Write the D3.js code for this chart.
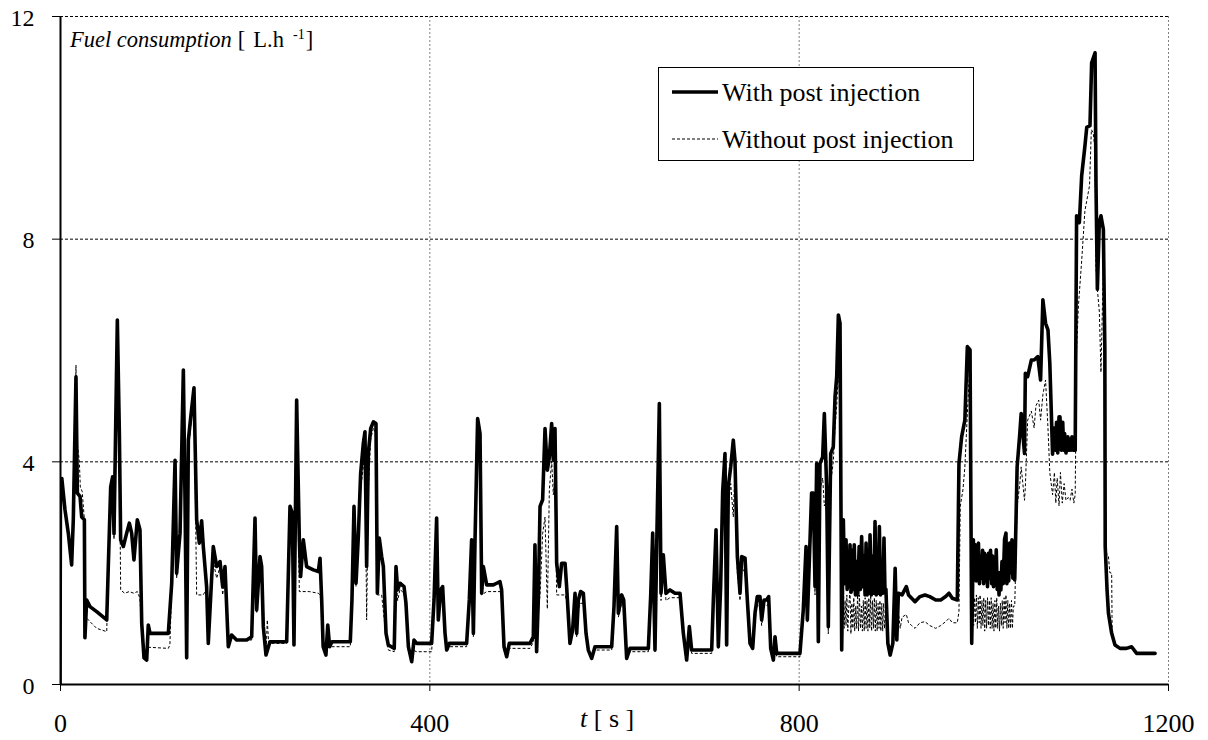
<!DOCTYPE html>
<html><head><meta charset="utf-8">
<script src="https://cdn.jsdelivr.net/npm/d3@7"></script>
<style>body{margin:0;background:#fff}svg{display:block}</style>
</head><body>
<svg id="c" width="1208" height="740"></svg>
<script>
const xTicks = [0, 400, 800, 1200];
const yTicks = [0, 4, 8, 12];
const seriesNames = ["With post injection", "Without post injection"];
// [time s, fuel L/h]
const withPost = [[0,0],[0.5,3.65],[2,3.69],[5.4,3.13],[9,2.71],[12.6,2.14],[14.4,2.95],[17.3,5.52],[18.8,3.43],[21.7,3.37],[23.5,3.0],[26.4,2.95],[27,0.83],[28.9,1.51],[32.5,1.39],[39.7,1.30],[50.6,1.15],[52.3,2.11],[54.9,3.54],[57,3.72],[58.5,2.7],[62.1,6.54],[64.3,4.5],[65.7,2.59],[68.6,2.47],[72.2,2.71],[75.1,2.89],[77.6,2.71],[80.1,2.23],[83.7,2.95],[86.6,2.77],[88.5,1.09],[91,0.47],[93.9,0.43],[95.6,1.06],[97.5,0.91],[117.3,0.91],[121,1.81],[124.6,4.02],[126.3,1.99],[130,2.71],[133.6,5.64],[135.4,3.31],[137.2,0.47],[139,4.38],[141.5,4.78],[145.1,5.32],[148,2.95],[150.9,2.53],[153.4,2.93],[155.2,2.47],[158.8,1.75],[160.6,0.73],[166,2.47],[169.7,2.11],[173.3,2.20],[176.2,1.75],[178.7,2.11],[182.3,0.67],[185.9,0.88],[191.3,0.79],[202.2,0.79],[207.6,0.85],[211.2,2.98],[213,1.33],[216.6,2.29],[218.4,2.11],[220.2,1.03],[223.1,0.52],[227.4,0.76],[245.5,0.76],[249.1,3.19],[251.6,3.07],[253.4,0.70],[256.3,5.10],[259.2,2.59],[260.6,1.93],[263.5,2.59],[267.1,2.11],[274.4,2.05],[279.8,2.02],[281.6,2.26],[283.4,1.51],[285,0.67],[288,0.52],[290,1.06],[292,0.67],[294.6,0.76],[314.4,0.76],[316.2,1.51],[318.4,3.19],[320.6,1.81],[323.1,2.65],[325.6,3.78],[328.5,4.32],[330.3,4.53],[332.1,2.11],[333.9,4.14],[336.5,4.59],[339.4,4.71],[342.2,4.68],[343.7,1.63],[345.8,2.62],[348.4,2.29],[350.2,2.11],[353.1,0.91],[355.6,0.70],[362,0.64],[363.9,2.11],[365.7,1.69],[368.2,1.81],[372.6,1.75],[374.7,1.45],[377.3,0.67],[380.9,0.40],[383.4,0.79],[386.3,0.73],[402.5,0.73],[405.1,1.51],[407.9,2.98],[409.7,1.15],[412.3,1.69],[414.4,1.75],[417,0.91],[418.8,0.61],[421.7,0.73],[440.4,0.73],[443.3,1.51],[445.8,2.59],[447.7,0.91],[449.5,2.59],[452.3,4.77],[454.9,4.50],[456.7,1.63],[458.5,2.11],[462.1,1.78],[469.3,1.78],[472.9,1.81],[476.5,1.84],[478.3,1.69],[480.9,0.67],[483.8,0.49],[486.6,0.73],[509,0.73],[512.6,0.85],[514.4,2.50],[516.2,0.58],[518,1.51],[519.9,3.19],[522.7,3.31],[525.3,4.59],[527.8,3.84],[530,4.08],[532.5,4.68],[534.3,4.02],[536.1,4.59],[537.9,2.17],[540.8,1.75],[543.3,2.17],[547,2.17],[548.7,1.75],[552.3,0.73],[555.2,0.97],[557.8,1.63],[559.6,0.91],[561.4,1.51],[563.9,1.66],[566.8,1.63],[569.7,0.91],[572.2,0.61],[575.8,0.46],[579.4,0.67],[597.5,0.67],[600,1.39],[602.9,2.83],[604.7,1.27],[608.3,1.60],[610.5,1.51],[613.7,0.46],[617.3,0.64],[637.2,0.64],[639.7,1.57],[641.9,2.71],[644.4,0.61],[646.5,2.71],[649.1,5.04],[650.9,1.63],[653.4,2.32],[656.3,1.63],[660.6,1.69],[666.1,1.63],[671.5,1.63],[675.1,0.91],[678.7,0.43],[681.6,1.03],[684.1,0.61],[705.8,0.61],[707.6,1.51],[710.5,2.77],[713,0.67],[715.5,1.75],[717.7,3.46],[720.2,4.14],[722,0.70],[723.8,3.55],[726.4,3.90],[729.2,4.38],[731,4.02],[733.6,2.29],[736.5,1.63],[738.3,2.29],[741.9,2.26],[744.4,1.51],[747.3,0.73],[750.2,0.64],[752.7,1.27],[755.2,1.57],[758.1,1.57],[759.9,1.15],[762.5,1.51],[765.3,1.51],[767.5,1.57],[769.7,0.64],[772.6,0.43],[774.4,0.85],[776.2,0.55],[801.4,0.55],[805,1.33],[808,2.47],[809.4,1.15],[814,3.43],[815.9,3.43],[817.7,1.75],[819.5,3.96],[821.3,0.76],[823.1,3.96],[826,4.08],[827.8,4.86],[830.3,3.55],[832.1,1.03],[834.7,4.14],[837.5,4.26],[839.4,5.16],[841.2,5.52],[843,6.63],[844.8,6.48],[846.6,0.61],[848.4,2.95],[849.6,1.8],[851.3,2.59],[852.5,1.7],[853.8,2.3],[854.7,1.75],[855.6,2.50],[856.8,1.65],[858,2.4],[859.1,1.7],[860.2,2.50],[861.5,1.6],[862.8,2.2],[864,1.6],[865.5,2.47],[866.8,1.7],[868.2,2.65],[869.5,1.75],[870.8,2.3],[871.9,1.6],[873,2.53],[874.2,1.6],[875.5,2.2],[876.4,1.63],[877.3,2.68],[878.7,1.6],[880.2,2.3],[881.4,1.63],[882.7,2.92],[884,1.6],[885.2,2.3],[886.3,1.63],[887.4,2.83],[888.7,1.6],[890,2.2],[891.2,1.63],[892.4,2.62],[893.5,1.63],[894.5,1.7],[896.6,0.73],[899.1,0.52],[902,0.73],[904.5,2.08],[906.3,0.79],[908,1.63],[912,1.60],[916.6,1.75],[919,1.60],[922.4,1.54],[926,1.48],[931.4,1.57],[936.8,1.60],[942,1.57],[948.4,1.51],[953.8,1.51],[959.2,1.57],[962.8,1.63],[966.4,1.54],[971.8,1.51],[973.6,3.96],[976.5,4.44],[980,4.74],[982.7,6.06],[985.6,6.0],[987.4,0.73],[989.2,2.59],[990.3,1.9],[991.3,2.5],[992.3,1.85],[993.5,2.4],[994.7,2.53],[995.8,1.8],[996.8,2.3],[998,1.9],[999.2,2.4],[1000.3,1.8],[1001.3,2.35],[1002.5,1.85],[1003.5,2.3],[1004.5,1.75],[1005.6,2.35],[1006.7,1.9],[1007.8,2.4],[1009,1.8],[1010,2.3],[1011,1.75],[1012,2.2],[1013,1.8],[1014,2.41],[1015,1.7],[1016,2.0],[1017,1.6],[1018,2.0],[1019,1.69],[1020.2,2.2],[1021.5,1.8],[1023,2.6],[1024.5,2.71],[1025.5,1.8],[1026.5,2.3],[1027.5,1.85],[1028.5,2.53],[1029.8,2.0],[1031,2.59],[1032,1.9],[1033,2.2],[1034,1.87],[1036.6,3.9],[1039.5,4.5],[1041,4.86],[1044.6,4.14],[1045.5,5.58],[1048,5.52],[1052,5.82],[1055,5.82],[1059,5.88],[1062,5.46],[1064.5,6.9],[1067.4,6.48],[1070,6.36],[1072,5.76],[1075,4.13],[1076.5,4.6],[1078,4.2],[1079.3,4.7],[1080.6,4.15],[1082,4.8],[1083,4.8],[1084.5,4.2],[1086,4.7],[1087,4.2],[1088,4.5],[1089.5,4.15],[1091.5,4.44],[1093,4.2],[1094,4.4],[1095,4.2],[1096,4.44],[1097.5,4.2],[1098.6,4.3],[1099.5,4.2],[1101,8.41],[1104,8.29],[1106.5,9.13],[1110,9.66],[1112,10.0],[1115.5,10.03],[1117.3,11.16],[1121,11.34],[1122,9.0],[1123.5,7.09],[1125.6,8.29],[1127.4,8.41],[1130,8.17],[1131.6,6.0],[1132,2.47],[1134,1.69],[1135.5,1.27],[1139,0.91],[1142.6,0.70],[1148,0.64],[1155,0.64],[1160.6,0.67],[1166,0.55],[1186,0.55]];
const withoutPost = [[0,0],[0.5,3.6],[2,3.65],[5.4,3.1],[9,2.68],[12.6,2.12],[14.4,2.9],[17.3,5.73],[18.8,4.3],[20.9,4.02],[22,3.54],[24,3.46],[26.4,2.95],[27.5,1.21],[32.5,1.12],[39.7,1.0],[50.6,0.94],[52.3,2.0],[54.9,3.4],[57,3.6],[58.5,2.6],[62.1,6.5],[64.3,4.3],[65.7,1.69],[70,1.63],[75,1.66],[80,1.63],[83.7,1.66],[86.6,1.54],[88.5,1.0],[91,0.47],[93.9,0.43],[95.6,0.66],[117.3,0.64],[119,0.7],[121,1.75],[124.6,4.0],[126.3,1.9],[130,2.6],[133.6,5.6],[135.4,3.2],[137.2,0.5],[139,4.2],[141.5,4.6],[145.1,5.3],[148,1.6],[155,1.6],[158.8,1.7],[160.6,0.73],[166,2.2],[169.7,1.9],[173.3,2.1],[176.2,1.6],[178.7,2.0],[182.3,0.67],[185.9,0.85],[191.3,0.79],[207.6,0.79],[211.2,2.8],[213,1.27],[216.6,2.1],[218.4,1.9],[220.2,1.03],[223.1,0.52],[224.5,1.15],[226,0.73],[245.5,0.73],[249.1,3.1],[251.6,3.0],[253.4,0.7],[256.3,5.0],[259.2,1.66],[270,1.66],[279.8,1.63],[281.6,1.6],[283.4,1.4],[285,0.67],[288,0.52],[290,0.9],[292,0.67],[294.6,0.67],[314.4,0.67],[316.2,1.45],[318.4,3.0],[320.6,1.75],[323.1,2.5],[325.6,3.5],[328.5,3.9],[330.3,4.3],[332.1,1.15],[333.9,3.46],[336.5,4.4],[339.4,4.6],[342.2,4.5],[343.7,1.6],[348.4,1.6],[353.1,0.85],[355.6,0.61],[362,0.58],[363.9,1.9],[365.7,1.5],[368.2,1.7],[372.6,1.63],[374.7,1.3],[377.3,0.6],[380.9,0.40],[383.4,0.6],[386.3,0.58],[402.5,0.58],[405.1,1.4],[407.9,2.9],[409.7,1.15],[412.3,1.5],[414.4,1.66],[417,0.85],[418.8,0.58],[421.7,0.67],[440.4,0.67],[443.3,1.45],[445.8,2.5],[447.7,0.85],[449.5,2.5],[452.3,4.7],[454.9,4.4],[456.7,1.6],[462.1,1.66],[476.5,1.66],[478.3,1.6],[480.9,0.6],[483.8,0.49],[486.6,0.64],[509,0.64],[512.6,0.75],[514.4,2.4],[516.2,0.58],[518,1.3],[519.9,1.6],[522.7,2.7],[525.3,3.0],[527.8,1.35],[530,3.5],[532.5,4.0],[534.3,3.4],[536.1,3.8],[537.9,1.6],[547,1.6],[548.7,1.5],[552.3,0.73],[555.2,0.9],[557.8,1.45],[559.6,0.85],[561.4,1.35],[563.9,1.45],[566.8,1.45],[569.7,0.85],[572.2,0.58],[575.8,0.46],[579.4,0.61],[597.5,0.61],[600,1.3],[602.9,2.7],[604.7,1.2],[608.3,1.45],[610.5,1.4],[613.7,0.46],[617.3,0.58],[637.2,0.58],[639.7,1.4],[641.9,2.6],[644.4,0.58],[646.5,2.5],[649.1,4.95],[650.9,1.5],[653.4,2.1],[656.3,1.5],[660.6,1.55],[671.5,1.55],[675.1,0.85],[678.7,0.43],[681.6,0.9],[684.1,0.55],[705.8,0.55],[707.6,1.35],[710.5,2.6],[713,0.64],[715.5,1.6],[717.7,3.2],[720.2,3.9],[722,0.7],[723.8,3.2],[726.4,3.6],[729.2,3.0],[731,3.9],[733.6,2.0],[736.5,1.5],[738.3,2.1],[741.9,2.0],[744.4,1.4],[747.3,0.7],[750.2,0.61],[752.7,1.15],[755.2,1.4],[758.1,1.45],[759.9,1.05],[762.5,1.4],[765.3,1.4],[767.5,1.45],[769.7,0.61],[772.6,0.43],[774.4,0.8],[776.2,0.49],[801.4,0.49],[805,1.2],[808,2.3],[809.4,1.1],[814,3.0],[815.9,3.2],[817.7,1.6],[819.5,3.5],[821.3,0.76],[823.1,3.5],[826,3.7],[827.8,3.2],[830.3,3.3],[832.1,0.9],[834.7,3.6],[837.5,4.0],[839.4,4.6],[841.2,5.0],[843,5.6],[844.8,5.0],[846.6,0.61],[848.4,1.9],[849.3,1.0],[850.3,1.5],[851.3,1.05],[852.2,1.6],[853.2,0.95],[854.3,1.4],[855.6,1.7],[856.6,0.9],[857.6,1.45],[858.7,1.0],[859.7,1.55],[860.7,0.95],[861.8,1.4],[862.8,1.0],[863.8,1.6],[864.8,0.95],[865.8,1.6],[866.9,1.0],[868,1.4],[869,0.95],[870,1.5],[871,0.95],[872,1.55],[873,1.0],[874,1.5],[875,0.95],[876,1.55],[877,1.0],[878,1.6],[879,0.95],[880,1.5],[881,1.0],[882,1.55],[883,0.95],[884,1.5],[885,0.95],[886,1.45],[887,1.0],[888,1.5],[889,0.95],[890,1.45],[891,0.95],[892,1.45],[893,1.0],[894.5,1.3],[896.6,0.73],[899.1,0.52],[902,0.73],[904.5,1.3],[906.3,1.0],[908,1.3],[910,1.0],[912,1.2],[916.6,1.25],[919,1.1],[922.4,1.05],[926,1.0],[931.4,1.1],[936.8,1.12],[942,1.05],[948.4,1.0],[953.8,1.05],[959.2,1.12],[962.8,1.18],[966.4,1.1],[971.8,1.1],[973.6,1.3],[975,3.19],[978,3.5],[980,3.9],[982.7,4.86],[985.6,5.8],[987.4,0.73],[988.5,1.5],[989.5,1.05],[990.5,1.55],[991.5,1.1],[992.5,1.6],[993.5,1.0],[994.5,1.55],[995.5,1.1],[996.5,1.6],[997.5,1.0],[998.5,1.5],[999.5,1.05],[1000.5,1.55],[1001.5,0.95],[1002.5,1.5],[1003.5,1.0],[1004.5,1.55],[1005.5,1.05],[1006.5,1.5],[1007.5,1.0],[1008.5,1.55],[1009.5,1.0],[1010.5,1.45],[1011.5,0.95],[1012.5,1.5],[1013.5,1.0],[1014.5,1.55],[1015.5,1.0],[1016.5,1.4],[1017.5,0.95],[1018.5,1.45],[1019.5,1.05],[1020.5,1.5],[1021.5,1.0],[1022.5,1.55],[1023.5,1.1],[1024.5,1.6],[1025.5,1.0],[1026.5,1.5],[1027.5,1.0],[1028.5,1.45],[1029.5,1.0],[1030.5,1.5],[1031.5,1.0],[1032.5,1.4],[1034,1.4],[1036.6,3.19],[1039.5,3.6],[1041,3.9],[1044.6,3.3],[1045.5,3.54],[1048,4.74],[1052,4.9],[1055,4.6],[1057,5.0],[1060,5.1],[1062,4.74],[1064.5,5.2],[1067.4,5.46],[1070,4.6],[1072,3.8],[1075,3.4],[1077,3.8],[1078.5,3.25],[1080,3.7],[1082,3.2],[1083.5,3.8],[1085.5,3.25],[1087.5,3.6],[1089.5,3.3],[1092,3.35],[1094,3.3],[1096,3.5],[1098,3.25],[1099.5,3.4],[1101,6.0],[1103,6.8],[1106.5,7.6],[1110,8.5],[1115,8.95],[1117,9.96],[1119,9.9],[1121,9.6],[1122,7.5],[1123.5,7.09],[1125.6,6.7],[1127.4,5.6],[1129,6.8],[1130,7.5],[1131.6,5.0],[1132.5,2.47],[1134,2.3],[1135.5,2.29],[1137,2.0],[1139,1.99],[1139.5,0.9],[1142.6,0.70],[1148,0.64],[1155,0.64],[1160.6,0.67],[1166,0.55],[1186,0.55]];

const FONT = "'Liberation Serif','Times New Roman',serif";
const svg = d3.select("#c");
const L = 60, R = 1168, T = 16, B = 684;
const x = d3.scaleLinear().domain([0, 1200]).range([L, R]);
const y = d3.scaleLinear().domain([0, 12]).range([B, T]);

svg.append("rect").attr("width", 1208).attr("height", 740).attr("fill", "#fff");

// grid
svg.append("g").selectAll("line").data(yTicks.filter(d => d > 0)).join("line")
  .attr("x1", L).attr("x2", R).attr("y1", d => y(d) + 0.5).attr("y2", d => y(d) + 0.5)
  .attr("stroke", "#000").attr("stroke-width", 1).attr("stroke-dasharray", "3,2");
svg.append("g").selectAll("line").data(xTicks.filter(d => d > 0)).join("line")
  .attr("x1", d => x(d) + 0.5).attr("x2", d => x(d) + 0.5).attr("y1", T).attr("y2", B)
  .attr("stroke", "#808080").attr("stroke-width", 1).attr("stroke-dasharray", "2,2");

// series
svg.append("defs").append("clipPath").attr("id", "clip")
  .append("rect").attr("x", L).attr("y", T - 2).attr("width", R - L).attr("height", B - T + 2);
const line = d3.line().x(d => x(d[0])).y(d => y(d[1]));
const plot = svg.append("g").attr("clip-path", "url(#clip)");
plot.append("path").datum(withPost).attr("d", line).attr("fill", "none")
  .attr("stroke", "#000").attr("stroke-width", 3.6).attr("stroke-linejoin", "round").attr("stroke-linecap", "round");
plot.append("path").datum(withoutPost).attr("d", line).attr("fill", "none")
  .attr("stroke", "#000").attr("stroke-width", 1).attr("stroke-dasharray", "3,2");

// axes
const yAxis = svg.append("g").attr("transform", `translate(${L},0)`)
  .call(d3.axisLeft(y).tickValues(yTicks).tickSize(8).tickSizeOuter(0).tickPadding(17.5).tickFormat(d3.format("d")));
const xAxis = svg.append("g").attr("transform", `translate(0,${B})`)
  .call(d3.axisBottom(x).tickValues(xTicks).tickSize(7).tickSizeOuter(0).tickPadding(23).tickFormat(d3.format("d")));
[yAxis, xAxis].forEach(g => {
  g.select(".domain").attr("stroke", "#000").attr("stroke-width", 2);
  g.selectAll(".tick line").attr("stroke", "#000").attr("stroke-width", 1);
  g.selectAll("text").attr("fill", "#000").style("font-family", FONT);
});
yAxis.selectAll("text").style("font-size", "24px").attr("dy", "0.38em");
xAxis.selectAll("text").style("font-size", "26px");

// y title
const yt = svg.append("text").attr("x", 70).attr("y", 47).style("font-family", FONT).style("font-size", "22.5px").attr("fill", "#000");
yt.append("tspan").style("font-style", "italic").text("Fuel consumption");
yt.append("tspan").attr("dx", 6).text("[");
yt.append("tspan").attr("dx", 8).text("L.h");
yt.append("tspan").attr("dx", 9).attr("dy", -8).style("font-size", "14px").text("-1");
yt.append("tspan").attr("dx", 1).attr("dy", 8).text("]");

// x title
const xt = svg.append("text").attr("x", 580).attr("y", 727).style("font-family", FONT).style("font-size", "26px").attr("fill", "#000");
xt.append("tspan").style("font-style", "italic").text("t");
xt.append("tspan").text(" [ s ]");

// legend
const lg = svg.append("g");
lg.append("rect").attr("x", 658.5).attr("y", 67.5).attr("width", 315).attr("height", 93)
  .attr("fill", "#fff").attr("stroke", "#000").attr("stroke-width", 1);
const legendStyles = [{w: 3.6, dash: null}, {w: 1, dash: "3,2"}];
seriesNames.forEach((name, i) => {
  const yy = 92 + i * 47;
  lg.append("line").attr("x1", 672).attr("x2", 718).attr("y1", yy).attr("y2", yy)
    .attr("stroke", "#000").attr("stroke-width", legendStyles[i].w)
    .attr("stroke-dasharray", legendStyles[i].dash);
  lg.append("text").attr("x", 722).attr("y", yy + 8.5).style("font-family", FONT)
    .style("font-size", "26px").attr("fill", "#000").text(name);
});
</script>
</body></html>
